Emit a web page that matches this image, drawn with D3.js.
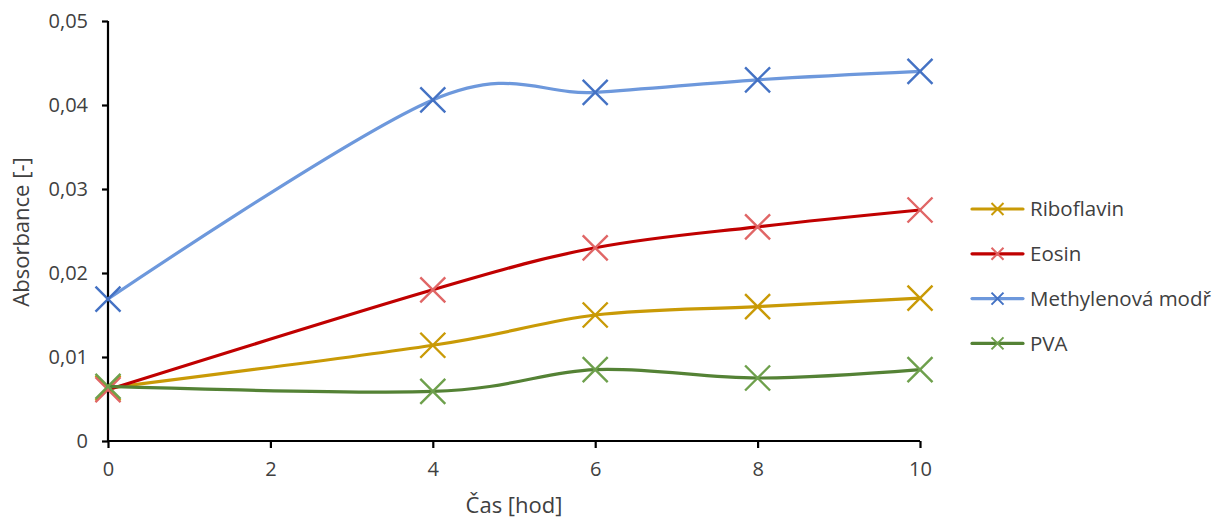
<!DOCTYPE html>
<html>
<head>
<meta charset="utf-8">
<script src="https://cdn.jsdelivr.net/npm/d3@7"></script>
<style>
  body { margin: 0; background: #fff; }
  text { font-family: "Open Sans", "Liberation Sans", sans-serif; fill: #404040; }
</style>
</head>
<body>
<div id="chart"></div>
<script>
// data
var hours = [0, 4, 6, 8, 10];
var riboflavin = [0.0063, 0.0114, 0.0150, 0.0160, 0.0170];
var eosin = [0.0061, 0.0180, 0.0230, 0.0255, 0.0275];
var methylene = [0.0169, 0.0406, 0.0415, 0.0430, 0.0440];
var pva = [0.0065, 0.0059, 0.0085, 0.0075, 0.0085];
var seriesNames = ["Riboflavin", "Eosin", "Methylenová modř", "PVA"];
var xTicks = [0, 2, 4, 6, 8, 10];
var yTicks = [0, 0.01, 0.02, 0.03, 0.04, 0.05];

var series = [
  { name: seriesNames[0], values: riboflavin, line: "#C99A06", mark: "#C99A06" },
  { name: seriesNames[1], values: eosin, line: "#C00000", mark: "#E06666" },
  { name: seriesNames[2], values: methylene, line: "#6D98DC", mark: "#4472C4" },
  { name: seriesNames[3], values: pva, line: "#548235", mark: "#6EA04C" }
];

var width = 1221, height = 521;
var svg = d3.select("#chart").append("svg")
  .attr("width", width)
  .attr("height", height);

var x = d3.scaleLinear().domain([0, 10]).range([108, 920]);
var y = d3.scaleLinear().domain([0, 0.05]).range([441, 21]);

// osy
var fmt = function(d) { return d === 0 ? "0" : d3.format(".2f")(d).replace(".", ","); };

var yAxis = svg.append("g")
  .attr("transform", "translate(108,0)")
  .call(d3.axisLeft(y).tickValues(yTicks).tickFormat(fmt).tickSize(6).tickPadding(14));
var xAxis = svg.append("g")
  .attr("transform", "translate(0,441)")
  .call(d3.axisBottom(x).tickValues(xTicks).tickFormat(d3.format("d")).tickSize(7).tickPadding(14));

[xAxis, yAxis].forEach(function(a) {
  a.select(".domain").attr("stroke", "#000").attr("stroke-width", 2.2);
  a.selectAll(".tick line").attr("stroke", "#000").attr("stroke-width", 2.2);
  a.selectAll(".tick text").style("font-size", "20px").attr("fill", "#404040");
});
xAxis.select(".domain").attr("d", "M108,0H920");
yAxis.select(".domain").attr("d", "M0,441V21");

svg.append("text")
  .attr("x", 514).attr("y", 513)
  .attr("text-anchor", "middle")
  .style("font-size", "22px")
  .text("Čas [hod]");

svg.append("text")
  .attr("transform", "translate(29,232) rotate(-90)")
  .attr("text-anchor", "middle")
  .style("font-size", "22px")
  .text("Absorbance [-]");

// čáry
var line = d3.line()
  .x(function(d, i) { return x(hours[i]); })
  .y(function(d) { return y(d); })
  .curve(d3.curveCardinal.tension(0));

function cross(g, cx, cy, r, color, w) {
  g.append("path")
    .attr("d", "M" + (cx - r) + "," + (cy - r) + "L" + (cx + r) + "," + (cy + r) +
      "M" + (cx - r) + "," + (cy + r) + "L" + (cx + r) + "," + (cy - r))
    .attr("stroke", color)
    .attr("stroke-width", w)
    .attr("fill", "none");
}

series.forEach(function(s) {
  var g = svg.append("g");
  g.append("path")
    .attr("d", line(s.values))
    .attr("fill", "none")
    .attr("stroke", s.line)
    .attr("stroke-width", 3.2)
    .attr("stroke-linecap", "round");
  s.values.forEach(function(v, i) {
    cross(g, x(hours[i]), y(v), 12.5, s.mark, 2.4);
  });
});

// legenda
var legend = svg.append("g");
series.forEach(function(s, i) {
  var ly = 209 + i * 44.8;
  legend.append("line")
    .attr("x1", 972).attr("x2", 1023)
    .attr("y1", ly).attr("y2", ly)
    .attr("stroke", s.line)
    .attr("stroke-width", 3.2)
    .attr("stroke-linecap", "round");
  cross(legend, 997.5, ly, 6, s.mark, 2);
  legend.append("text")
    .attr("x", 1030).attr("y", ly)
    .attr("dy", "0.36em")
    .style("font-size", "20.5px")
    .attr("fill", "#595959")
    .text(s.name);
});
</script>
</body>
</html>
